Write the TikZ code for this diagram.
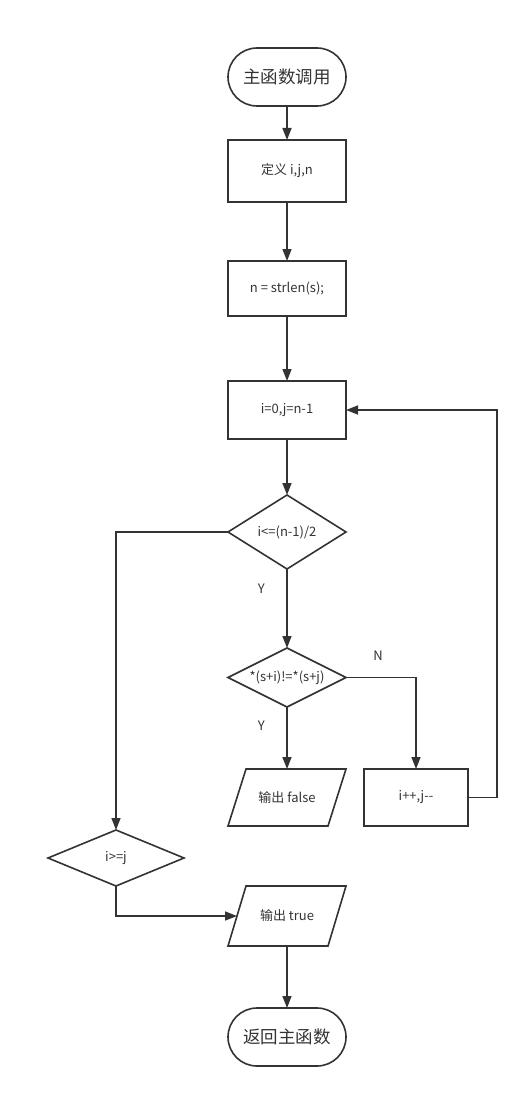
\documentclass[tikz,border=0pt]{standalone}
\usepackage{fontspec}
\setmainfont{Noto Sans CJK SC}
\usetikzlibrary{arrows.meta,shapes.geometric,shapes.misc}
\definecolor{ln}{HTML}{333333}
\begin{document}
\begin{tikzpicture}[x=1pt,y=-1pt,
  base/.style={draw=ln,line width=1.6pt,text=ln,font=\fontsize{13}{15}\selectfont,inner sep=0pt,outer sep=0pt},
  term/.style={base,rounded rectangle,rounded rectangle arc length=180,minimum width=118pt,minimum height=58pt,font=\fontsize{17.5}{20}\selectfont},
  proc/.style={base,rectangle,minimum width=118pt,minimum height=58pt},
  io/.style={base,draw=none,rectangle,minimum width=118pt,minimum height=57pt},
  para/.style={draw=ln,line width=1.6pt,line join=miter},
  arr/.style={draw=ln,line width=1.6pt,-{Triangle[length=12pt,width=9pt]}},
  lbl/.style={text=ln,font=\fontsize{13}{15}\selectfont}]
\useasboundingbox (0,0) rectangle (530,1097);
\node[term] (start) at (287,77) {主函数调用};
\node[proc,minimum height=62pt] (def) at (287,171) {定义 i,j,n};
\node[proc,minimum height=55pt] (len) at (287,288.5) {n = strlen(s);};
\node[proc] (init) at (287,410) {i=0,j=n-1};
\node[base,diamond,minimum width=118pt,minimum height=74pt,aspect=1.6] (d1) at (287,532) {i<=(n-1)/2};
\node[base,diamond,minimum width=118pt,minimum height=59pt,aspect=2] (d2) at (287,677.5) {*(s+i)!=*(s+j)};
\node[io] (fls) at (287,797.5) {输出 false};
\draw[para] ([xshift=18pt]fls.north west) -- (fls.north east) -- ([xshift=-18pt]fls.south east) -- (fls.south west) -- cycle;
\node[proc,minimum width=104pt,minimum height=57pt] (inc) at (416,797.5) {i++,j{-}{-}};
\node[base,diamond,minimum width=136pt,minimum height=56pt,aspect=2.4] (d3) at (116,858) {i>=j};
\node[io,minimum height=60pt] (tru) at (287,916) {输出 true};
\draw[para] ([xshift=18pt]tru.north west) -- (tru.north east) -- ([xshift=-18pt]tru.south east) -- (tru.south west) -- cycle;
\node[term] (end) at (287,1037) {返回主函数};
\coordinate (c1) at (116,532);
\coordinate (c2) at (416,677.5);
\coordinate (c3) at (497,797.5);
\coordinate (c4) at (497,410);
\coordinate (c5) at (116,916);
\coordinate (tin) at ([xshift=9pt]tru.west);
\draw[arr] (start) -- (def);
\draw[arr] (def) -- (len);
\draw[arr] (len) -- (init);
\draw[arr] (init) -- (d1);
\draw[arr] (d1) -- node[lbl,pos=0.25,left=18pt] {Y} (d2);
\draw[arr] (d2) -- node[lbl,pos=0.3,left=18pt] {Y} (fls);
\draw[arr] (d2.east) -- (c2) -- (inc.north);
\node[lbl] (nlab) at (378,656) {N};
\draw[arr] (d1.west) -- (c1) -- (d3.north);
\draw[arr] (inc.east) -- (c3) -- (c4) -- (init.east);
\draw[arr] (d3.south) -- (c5) -- (tin);
\draw[arr] (tru) -- (end);
\end{tikzpicture}
\end{document}
